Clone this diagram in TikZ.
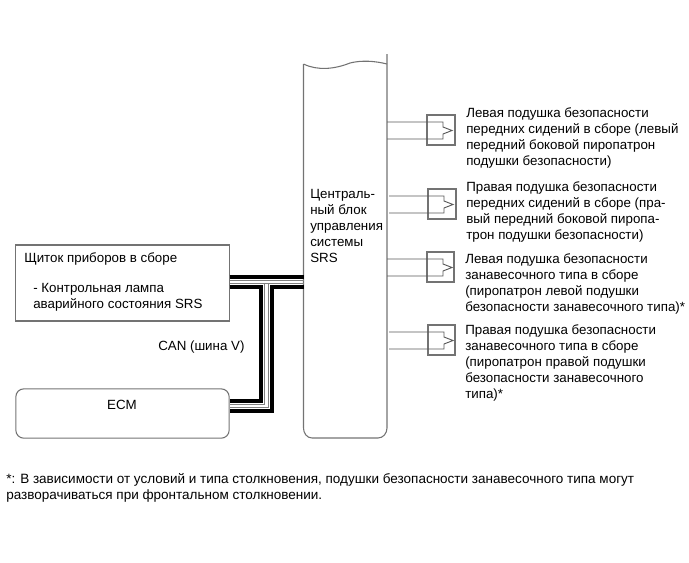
\documentclass[tikz,border=0pt]{standalone}
\usepackage{fontspec}
\setmainfont{Liberation Sans}
\tikzset{
    box/.style={draw=black!55, line width=.8pt, inner sep=0pt},
    wire/.style={draw=black!65, line width=.7pt},
    bus/.style={line width=2.8pt, black, line join=miter},
    core/.style={line width=.7pt, black!50, line join=miter},
    lbl/.style={inner sep=0pt, anchor=north west, align=left, font=\fontsize{10}{12}\selectfont}
}
\begin{document}
\begin{tikzpicture}[x=.75pt, y=-.75pt]

    \useasboundingbox (0,0) rectangle (689,562);

    %boxes:
    \node[box, minimum width=160pt, minimum height=57pt] (panel) at (122.5,283) {};
    \node[box, rounded corners=6pt, minimum width=160pt, minimum height=37pt] (ecm) at (122.5,413.5) {};
    \node[lbl] at (24,252.5) (paneltext) {Щиток приборов в сборе};
    \node[lbl] at (33,283.5) (lamptext) {- Контрольная лампа\\аварийного состояния SRS};
    \node[lbl, anchor=north] at (122,399.5) (ecmtext) {ECM};
    \node[lbl] at (158,340.5) (cantext) {CAN (шина V)};

    %central unit:
    \coordinate (ctl) at (303.5,64);
    \coordinate (ctr) at (387,54);
    \draw[box] (ctl) -- (303.5,428) to[out=-90, in=180] (312,438) -- (378,438)
        to[out=0, in=-90] (387,428) -- (ctr);
    \draw[box] (ctl) .. controls (318,71) and (335,69) .. (350,63) .. controls (362,60) and (375,61) .. (387,64);
    \node[lbl] at (310,189) (cttext) {Централь-\\ный блок\\управления\\системы\\SRS};

    %can bus:
    \coordinate (pa) at (229.5,277);
    \coordinate (pb) at (229.5,287);
    \coordinate (pc) at (303.5,277);
    \coordinate (pd) at (303.5,287);
    \coordinate (ea) at (229.5,401);
    \coordinate (eb) at (229.5,411);
    \draw[bus] (pa) -- (pc);
    \draw[bus] (pb) -- (261,287) -- (261,401) -- (ea);
    \draw[bus] (pd) -- (272,287) -- (272,411) -- (eb);
    \draw[core] (229.5,280.5) -- (303.5,280.5);
    \draw[core] (229.5,283.5) -- (303.5,283.5);
    \draw[core] (264.5,283.5) -- (264.5,404.5) -- (229.5,404.5);
    \draw[core] (268.5,283.5) -- (268.5,407.5) -- (229.5,407.5);

    %squib connectors:
    \foreach \n/\xa/\xb/\xs/\ya in {a/427/455/387/115, b/428/456/389/189, c/427/454/387/252, d/428/455/389/325} {
        \draw[box] (\xa,\ya) rectangle (\xb,\ya+30);
        \draw[wire] (\xs,\ya+7) -- (\xa+16,\ya+7) -- (\xa+16,\ya+12) -- (\xa+25,\ya+15.5)
            -- (\xa+16,\ya+19) -- (\xa+16,\ya+24) -- (\xs,\ya+24);
    }

    %labels:
    \node[lbl] at (466,107.5) (lfront) {Левая подушка безопасности\\передних сидений в сборе (левый\\передний боковой пиропатрон\\подушки безопасности)};
    \node[lbl] at (466,181.5) (rfront) {Правая подушка безопасности\\передних сидений в сборе (пра-\\вый передний боковой пиропа-\\трон подушки безопасности)};
    \node[lbl] at (465,253.5) (lcurt) {Левая подушка безопасности\\занавесочного типа в сборе\\(пиропатрон левой подушки\\безопасности занавесочного типа)*};
    \node[lbl] at (465,324.5) (rcurt) {Правая подушка безопасности\\занавесочного типа в сборе\\(пиропатрон правой подушки\\безопасности занавесочного\\типа)*};
    \node[lbl, font=\fontsize{10.13}{12}\selectfont] at (6,473.5) (note) {*: В зависимости от условий и типа столкновения, подушки безопасности занавесочного типа могут\\разворачиваться при фронтальном столкновении.};

\end{tikzpicture}
\end{document}
